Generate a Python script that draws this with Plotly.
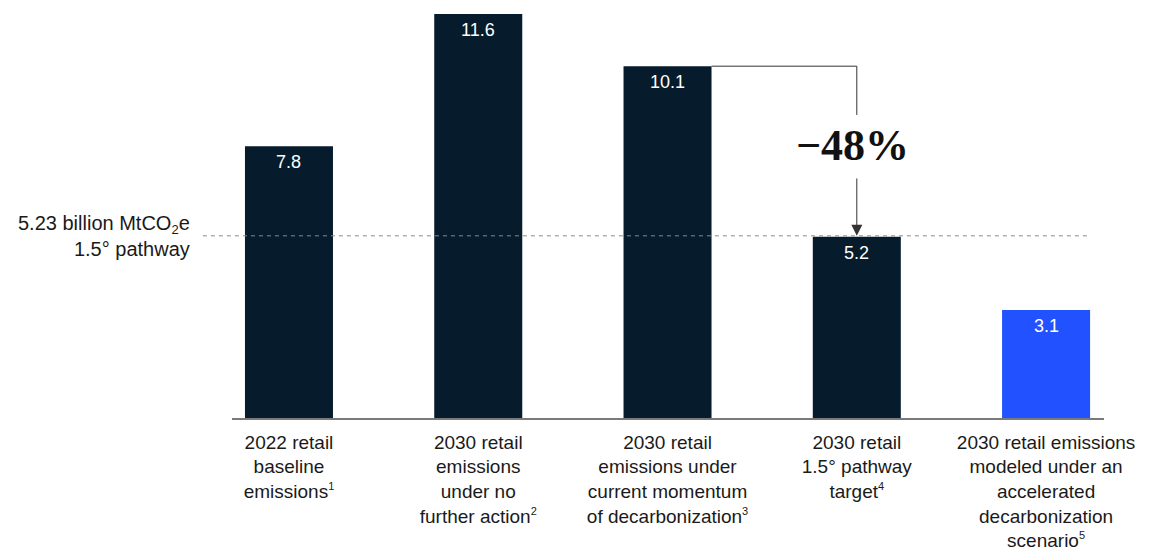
import plotly.graph_objects as go

# Retail emissions, billion MtCO2e
SUP = "<sup><span style='font-size:11px'>{}</span></sup>"
categories = [
    "2022 retail<br>baseline<br>emissions" + SUP.format(1),
    "2030 retail<br>emissions<br>under no<br>further action" + SUP.format(2),
    "2030 retail<br>emissions under<br>current momentum<br>of decarbonization" + SUP.format(3),
    "2030 retail<br>1.5° pathway<br>target" + SUP.format(4),
    "2030 retail emissions<br>modeled under an<br>accelerated<br>decarbonization<br>scenario" + SUP.format(5),
]
values = [7.8, 11.6, 10.1, 5.2, 3.1]
pathway_value = 5.23
reduction_label = "\u221248%"

NAVY = "#061c2c"
BLUE = "#2251ff"
colors = [NAVY, NAVY, NAVY, NAVY, BLUE]
positions = list(range(len(values)))
bar_width = 0.465
FONT = "Liberation Sans, Arial, sans-serif"
TEXT = "#1a1a1a"

fig = go.Figure(
    go.Bar(
        x=positions,
        y=values,
        width=bar_width,
        marker=dict(color=colors, line=dict(width=0)),
        hoverinfo="skip",
    )
)

# value labels just inside the top of each bar
for xi, v in zip(positions, values):
    fig.add_annotation(
        x=xi, y=v, xref="x", yref="y",
        text=f"{v:.1f}", showarrow=False,
        yanchor="middle", yshift=-16,
        font=dict(family=FONT, size=18, color="white"),
    )

# 1.5° pathway reference line
fig.add_shape(
    type="line", xref="paper", yref="y",
    x0=-0.0333, x1=0.983, y0=pathway_value, y1=pathway_value,
    line=dict(color="#8a8a8a", width=1, dash="4px,4px"),
)
fig.add_annotation(
    xref="paper", yref="y", x=-0.046, y=pathway_value,
    text=f"{pathway_value} billion MtCO<sub><span style='font-size:13px'>2</span></sub>e<br>1.5° pathway",
    showarrow=False, xanchor="right", yanchor="middle", align="right",
    font=dict(family=FONT, size=20, color=TEXT),
)

# bracket from current-momentum bar down to the 1.5° target
src, dst = 2, 3
top = values[src]
gap_top, gap_bottom = 8.70, 6.92
line_style = dict(color="#333333", width=1)
fig.add_shape(type="line", xref="x", yref="y",
              x0=src + bar_width / 2, x1=dst, y0=top, y1=top, line=line_style)
fig.add_shape(type="line", xref="x", yref="y",
              x0=dst, x1=dst, y0=top, y1=gap_top, line=line_style)
fig.add_annotation(
    x=dst, y=pathway_value, ax=dst, ay=gap_bottom,
    xref="x", yref="y", axref="x", ayref="y",
    text="", showarrow=True, arrowhead=2, arrowsize=2.2,
    arrowwidth=1, arrowcolor="#333333", standoff=0,
)
fig.add_annotation(
    x=dst, y=(gap_top + gap_bottom) / 2, xref="x", yref="y",
    text=f"<b>{reduction_label}</b>", showarrow=False, xshift=-4,
    font=dict(family="Liberation Serif, Times New Roman, serif", size=44, color="#111111"),
)

fig.update_xaxes(
    range=[-0.301, 4.306],
    tickvals=positions, ticktext=categories,
    tickfont=dict(family=FONT, size=19, color=TEXT),
    ticks="outside", ticklen=6, tickcolor="rgba(0,0,0,0)",
    showline=True, linecolor="#7a7a7a", linewidth=1.5,
    showgrid=False, zeroline=False, fixedrange=True,
)
fig.update_yaxes(
    range=[0, 12.0], visible=False, showgrid=False, zeroline=False, fixedrange=True,
)
fig.update_layout(
    width=1160, height=550,
    margin=dict(l=232, r=56, t=0, b=132),
    plot_bgcolor="white", paper_bgcolor="white",
    showlegend=False, bargap=0.5,
    font=dict(family=FONT),
)

fig.write_html("out.html", config={"displayModeBar": False})
